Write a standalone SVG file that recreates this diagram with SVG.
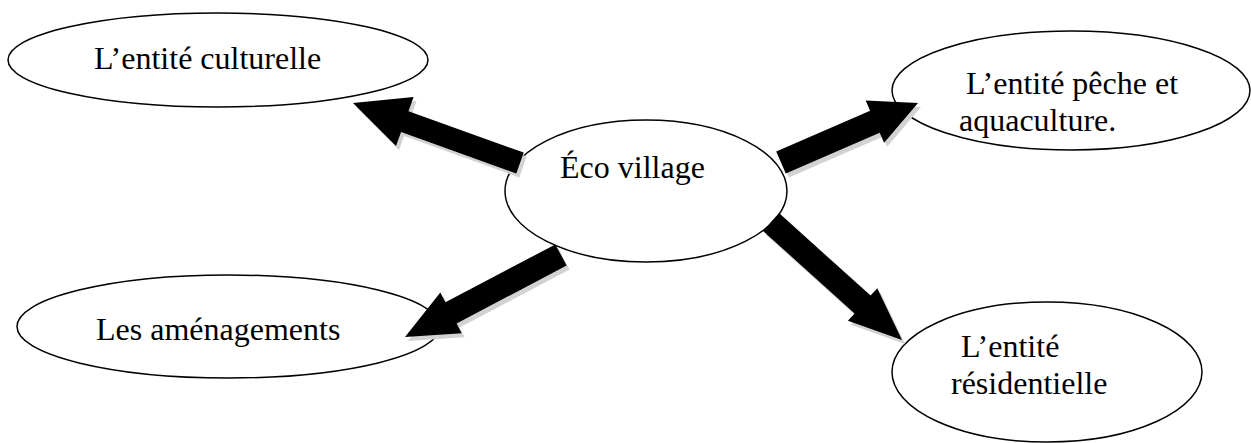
<svg xmlns="http://www.w3.org/2000/svg" width="1251" height="443" viewBox="0 0 1251 443">
  <style>
    .node ellipse { fill: #ffffff; stroke: #000000; stroke-width: 1.5; }
    .node text { font-family: "Liberation Serif", "Times New Roman", serif; font-size: 32px; fill: #000000; }
    .arrow { fill: #000000; }
    .shadow { fill: #d2d2d2; }
  </style>
  <rect x="0" y="0" width="1251" height="443" fill="#ffffff"/>

  <g id="node-culturelle" class="node">
    <ellipse cx="218" cy="60" rx="210" ry="47"/>
    <text x="94" y="69">L’entité culturelle</text>
  </g>
  <g id="node-peche" class="node">
    <ellipse cx="1071" cy="90.5" rx="179" ry="59.5"/>
    <text x="966" y="94">L’entité pêche et</text>
    <text x="959" y="131">aquaculture.</text>
  </g>
  <g id="node-amenagements" class="node">
    <ellipse cx="228.5" cy="326.5" rx="211.5" ry="51.5"/>
    <text x="96" y="340">Les aménagements</text>
  </g>
  <g id="node-residentielle" class="node">
    <ellipse cx="1047" cy="372" rx="155" ry="70"/>
    <text x="961" y="357">L’entité</text>
    <text x="951" y="394">résidentielle</text>
  </g>
  <g id="node-eco" class="node">
    <ellipse cx="646" cy="191" rx="141" ry="71"/>
    <text x="560" y="178">Éco village</text>
  </g>

  <g id="connectors">
    <g transform="translate(3,4)">
      <polygon class="shadow" points="523.7,152.6 408.5,111.2 413.6,97.1 353,103 396,146.1 401.1,132 516.3,173.4"/>
      <polygon class="shadow" points="776.2,151.5 870.1,110.7 865.7,100.6 918,103 884.1,142.8 879.7,132.7 785.8,173.5"/>
      <polygon class="shadow" points="555.4,244.4 445.4,302.2 440.3,292.4 405,337 461.7,333.2 456.6,323.4 566.6,265.6"/>
      <polygon class="shadow" points="779,213.1 870.6,295.6 877.3,288.2 902,340 847.9,320.8 854.6,313.4 763,230.9"/>
    </g>
    <polygon class="arrow" points="523.7,152.6 408.5,111.2 413.6,97.1 353,103 396,146.1 401.1,132 516.3,173.4"/>
    <polygon class="arrow" points="776.2,151.5 870.1,110.7 865.7,100.6 918,103 884.1,142.8 879.7,132.7 785.8,173.5"/>
    <polygon class="arrow" points="555.4,244.4 445.4,302.2 440.3,292.4 405,337 461.7,333.2 456.6,323.4 566.6,265.6"/>
    <polygon class="arrow" points="779,213.1 870.6,295.6 877.3,288.2 902,340 847.9,320.8 854.6,313.4 763,230.9"/>
  </g>
</svg>
